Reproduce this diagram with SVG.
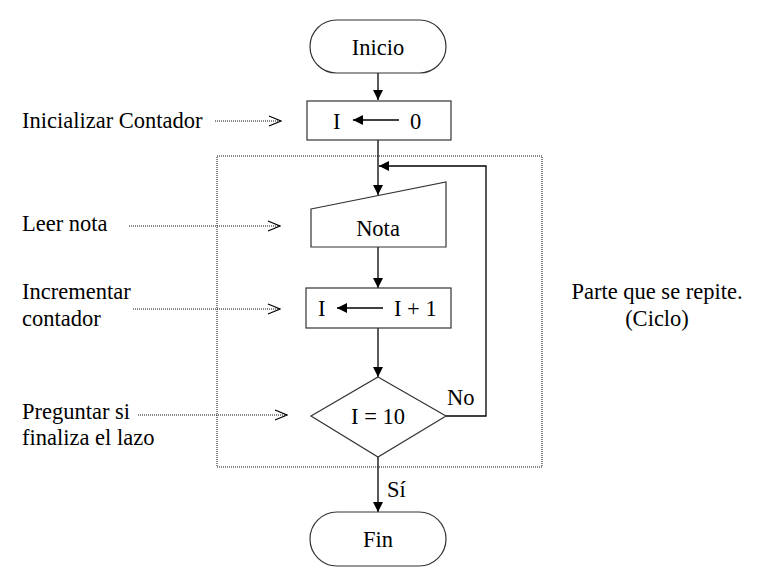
<svg xmlns="http://www.w3.org/2000/svg" width="761" height="588" viewBox="0 0 761 588">
<defs>
<style>
text{font-family:"Liberation Serif","Times New Roman",serif;font-size:22.5px;fill:#000}
.s{fill:#fff;stroke:#333;stroke-width:1.2}
.c{fill:none;stroke:#000;stroke-width:1.3}
.d{fill:none;stroke:#111;stroke-width:1;stroke-dasharray:1 1}
.m{text-anchor:middle}
</style>
<marker id="ah" viewBox="0 0 10 10" refX="10" refY="5" markerWidth="10" markerHeight="10" markerUnits="userSpaceOnUse" orient="auto">
<path d="M0,0 L10,5 L0,10 z" fill="#000"/>
</marker>
<marker id="oh" viewBox="0 0 14 12" refX="13" refY="6" markerWidth="14" markerHeight="12" markerUnits="userSpaceOnUse" orient="auto">
<path d="M1,1 L13,6 L1,11" fill="none" stroke="#000" stroke-width="1.2"/>
</marker>
</defs>
<rect width="761" height="588" fill="#fff"/>
<g id="loopbox"><rect class="d" x="217" y="156" width="325" height="311"/></g>
<g id="connectors">
<line class="c" x1="378" y1="73" x2="378" y2="100" marker-end="url(#ah)"/>
<line class="c" x1="378" y1="140" x2="378" y2="195" marker-end="url(#ah)"/>
<line class="c" x1="378" y1="247" x2="378" y2="288" marker-end="url(#ah)"/>
<line class="c" x1="378" y1="328" x2="378" y2="377" marker-end="url(#ah)"/>
<line class="c" x1="378" y1="457" x2="378" y2="512" marker-end="url(#ah)"/>
<polyline class="c" points="446,416 486,416 486,166 379,166" marker-end="url(#ah)"/>
<line class="d" x1="215" y1="121" x2="281" y2="121" marker-end="url(#oh)"/>
<line class="d" x1="129" y1="226" x2="280" y2="226" marker-end="url(#oh)"/>
<line class="d" x1="133" y1="309" x2="280" y2="309" marker-end="url(#oh)"/>
<line class="d" x1="138" y1="415" x2="287" y2="415" marker-end="url(#oh)"/>
</g>
<g id="inicio"><rect class="s" x="310" y="20" width="136" height="53" rx="26.5"/><text class="m" x="378" y="55">Inicio</text></g>
<g id="init"><rect class="s" x="307" y="101" width="144" height="39"/><text x="333" y="129">I</text><line class="c" x1="399" y1="120" x2="353" y2="120" marker-end="url(#ah)"/><text x="410" y="129">0</text></g>
<g id="nota"><polygon class="s" points="311,209 446,182 446,247 311,247"/><text class="m" x="378" y="236">Nota</text></g>
<g id="incr"><rect class="s" x="306" y="288" width="145" height="40"/><text x="318" y="316">I</text><line class="c" x1="383" y1="308" x2="337" y2="308" marker-end="url(#ah)"/><text x="394" y="316">I + 1</text></g>
<g id="cond"><polygon class="s" points="378,377 446,416 378,457 311,416"/><text class="m" x="378" y="424">I = 10</text><text x="447" y="405">No</text></g>
<g id="fin"><rect class="s" x="310" y="512" width="136" height="54" rx="27"/><text class="m" x="378" y="547">Fin</text><text x="387" y="497">Sí</text></g>
<g id="labels">
<text x="22" y="128">Inicializar Contador</text>
<text x="22" y="231">Leer nota</text>
<text x="22" y="299">Incrementar</text>
<text x="22" y="326">contador</text>
<text x="22" y="419">Preguntar si</text>
<text x="22" y="445">finaliza el lazo</text>
<text class="m" x="657" y="299">Parte que se repite.</text>
<text class="m" x="657" y="326">(Ciclo)</text>
</g>
</svg>
